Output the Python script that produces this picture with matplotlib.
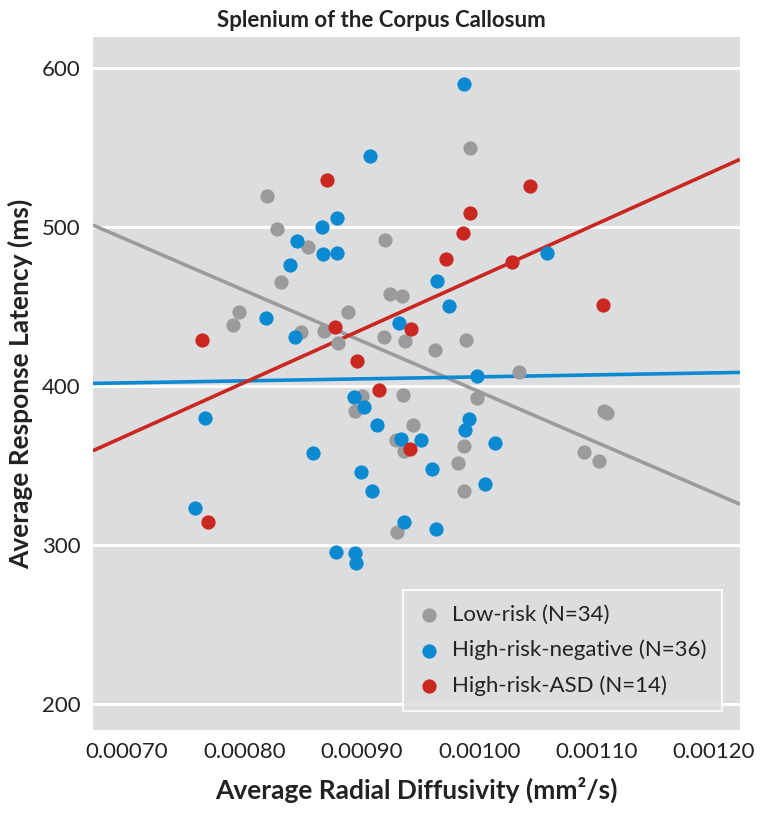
import matplotlib.pyplot as plt
import numpy as np

plt.rcParams['font.family'] = ['Lato', 'DejaVu Sans']

################################################ data
low_x = [0.000819, 0.000828, 0.000854, 0.000920, 0.000831, 0.000924, 0.000934,
         0.000795, 0.000790, 0.000888, 0.000848, 0.000868, 0.000880, 0.000919,
         0.000937, 0.000992, 0.000989, 0.000962, 0.001034, 0.000900, 0.000935,
         0.000894, 0.000944, 0.000929, 0.000936, 0.000930, 0.000998, 0.001106,
         0.001109, 0.000987, 0.000982, 0.001089, 0.001102, 0.000987]
low_y = [519.2, 498.3, 487.1, 491.7, 465.4, 457.5, 456.2,
         446.5, 438.5, 446.2, 433.7, 434.6, 427.1, 430.6,
         428.1, 549.4, 428.7, 422.3, 408.7, 393.3, 394.1,
         384.2, 375.4, 365.9, 359.2, 308.4, 392.6, 384.4,
         382.7, 362.3, 351.8, 358.3, 352.6, 333.9]

neg_x = [0.000907, 0.000879, 0.000866, 0.000845, 0.000867, 0.000879, 0.000839,
         0.000818, 0.000843, 0.000932, 0.000987, 0.001058, 0.000964, 0.000974,
         0.000998, 0.000893, 0.000902, 0.000766, 0.000913, 0.000933, 0.000858,
         0.000899, 0.000909, 0.000758, 0.000936, 0.000878, 0.000894, 0.000895,
         0.000991, 0.000988, 0.000950, 0.001013, 0.000960, 0.001005, 0.000963]
neg_y = [544.2, 505.4, 499.6, 490.8, 482.9, 483.7, 476.2,
         442.9, 430.8, 439.6, 589.6, 483.3, 465.8, 450.0,
         406.2, 392.8, 386.9, 379.8, 375.4, 366.3, 357.7,
         345.7, 333.9, 322.9, 314.5, 295.4, 294.9, 288.4,
         378.9, 372.2, 365.9, 364.0, 347.8, 338.1, 309.9]

asd_x = [0.000870, 0.000764, 0.000877, 0.000942, 0.000896, 0.001043, 0.000992,
         0.000986, 0.000972, 0.001028, 0.001105, 0.000915, 0.000941, 0.000769]
asd_y = [529.2, 429.0, 436.9, 435.4, 415.6, 525.6, 508.7,
         495.8, 479.4, 477.7, 450.8, 397.5, 360.4, 314.1]

# regression lines, values at the two x limits
fit_x = [0.000671, 0.001222]
fit_low = [501.0, 325.6]
fit_neg = [401.5, 408.4]
fit_asd = [359.2, 542.3]

labels = ['Low-risk (N=34)', 'High-risk-negative (N=36)', 'High-risk-ASD (N=14)']
colours = ['#9b9b9d', '#0b89d1', '#c9271f']
x_ticks = [0.0007, 0.0008, 0.0009, 0.0010, 0.0011, 0.0012]
y_ticks = [200, 300, 400, 500, 600]

###################################################################### plot
fig = plt.figure(figsize=(7.62, 8.15), dpi=100)
ax = fig.add_axes([0.122, 0.1043, 0.849, 0.8503])
ax.set_facecolor('#dcdddf')
for s in ax.spines.values():
    s.set_visible(False)

ax.plot(fit_x, fit_low, color=colours[0], lw=2.6, zorder=2, solid_capstyle='butt')
ax.plot(fit_x, fit_neg, color=colours[1], lw=2.6, zorder=2, solid_capstyle='butt')
ax.plot(fit_x, fit_asd, color=colours[2], lw=2.6, zorder=2, solid_capstyle='butt')

ms = 105
ax.scatter(low_x, low_y, s=ms, color=colours[0], lw=0, zorder=3, label=labels[0])
ax.scatter(neg_x, neg_y, s=ms, color=colours[1], lw=0, zorder=3, label=labels[1])
ax.scatter(asd_x, asd_y, s=ms, color=colours[2], lw=0, zorder=3, label=labels[2])

ax.set_xlim(fit_x[0], fit_x[1])
ax.set_ylim(183.7, 619.2)
ax.set_xticks(x_ticks)
ax.set_xticklabels(['{:.5f}'.format(v) for v in x_ticks])
ax.set_yticks(y_ticks)
ax.yaxis.grid(True, color='white', lw=2.2)
ax.set_axisbelow(True)
ax.tick_params(length=0, labelsize=16, colors='#222222', pad=9)

ax.set_xlabel('Average Radial Diffusivity (mm²/s)', fontsize=19, fontweight='bold',
              color='#222222')
ax.xaxis.set_label_coords(0.5, -0.068)
ax.set_ylabel('Average Response Latency (ms)', fontsize=19, fontweight='bold',
              color='#222222')
ax.yaxis.set_label_coords(-0.093, 0.5)
ax.set_title('Splenium of the Corpus Callosum', fontsize=16, fontweight='bold',
             color='#222222', pad=7, x=0.446)

leg = ax.legend(loc='lower right', bbox_to_anchor=(0.972, 0.0274), borderaxespad=0,
                fontsize=16, frameon=True, fancybox=False, facecolor='#dcdddf',
                edgecolor='white', handletextpad=0.55, borderpad=0.68,
                labelspacing=0.67, handlelength=1.0, scatterpoints=1)
leg.get_frame().set_linewidth(1.5)
for t in leg.get_texts():
    t.set_color('#222222')

plt.savefig('out.png', dpi=100)
